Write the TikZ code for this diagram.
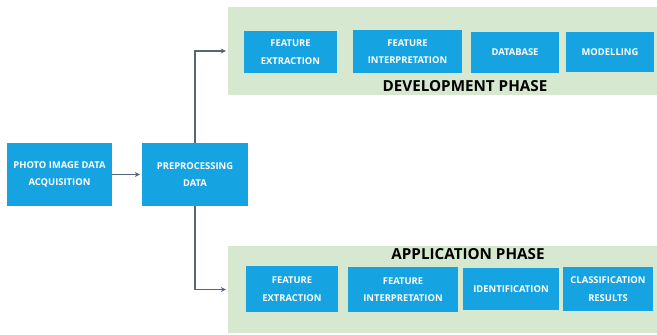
\documentclass[tikz,border=0pt]{standalone}
\usepackage{fontspec}
\setmainfont{Open Sans}
\usetikzlibrary{arrows.meta}
\definecolor{boxblue}{RGB}{22,163,226}
\definecolor{phasegreen}{RGB}{214,232,208}
\definecolor{linkgrey}{RGB}{84,102,120}
\tikzset{
  stagebox/.style={fill=boxblue, draw=none, text=white, align=center,
    font=\fontsize{9.4}{17.5}\selectfont\bfseries, inner sep=0pt},
  phasepanel/.style={fill=phasegreen, draw=none, inner sep=0pt},
  phasetitle/.style={font=\fontsize{15.2}{17}\selectfont\bfseries, text=black, inner sep=0pt},
  conn/.style={draw=linkgrey, line width=1.2pt, -{Stealth[length=5pt,width=5pt]}, shorten >=2pt}
}
\begin{document}
\begin{tikzpicture}[x=1pt, y=-1pt]
\useasboundingbox (0,0) rectangle (657,335);

% phase panels
\node[phasepanel, minimum width=429pt, minimum height=88pt] (dev) at (442.5,51) {};
\node[phasepanel, minimum width=429pt, minimum height=87pt] (app) at (442.5,289.5) {};

% input stages
\node[stagebox, minimum width=105pt, minimum height=63pt] (photo) at (59.5,174.5) {PHOTO IMAGE DATA\\ACQUISITION};
\node[stagebox, minimum width=106pt, minimum height=63pt] (prep) at (195,174.5) {PREPROCESSING\\DATA};

% development phase stages
\node[stagebox, minimum width=93pt, minimum height=42pt] (dfe) at (290.5,52) {FEATURE\\EXTRACTION};
\node[stagebox, minimum width=109pt, minimum height=43pt] (dfi) at (407.5,51.5) {FEATURE\\INTERPRETATION};
\node[stagebox, minimum width=88pt, minimum height=41pt] (db) at (515,52.5) {DATABASE};
\node[stagebox, minimum width=88pt, minimum height=40pt] (mod) at (610,52) {MODELLING};
\node[phasetitle] (devtitle) at (465,86) {DEVELOPMENT PHASE};

% application phase stages
\node[phasetitle] (apptitle) at (468,254) {APPLICATION PHASE};
\node[stagebox, minimum width=92pt, minimum height=46pt] (afe) at (292,289) {FEATURE\\EXTRACTION};
\node[stagebox, minimum width=110pt, minimum height=45pt] (afi) at (403,289.5) {FEATURE\\INTERPRETATION};
\node[stagebox, minimum width=96pt, minimum height=42pt] (ident) at (511,289) {IDENTIFICATION};
\node[stagebox, minimum width=90pt, minimum height=44pt] (cls) at (608,289) {CLASSIFICATION\\RESULTS};

% connectors
\draw[conn] (photo) -- (prep);
\draw[conn] (prep.north) |- (dev.west);
\draw[conn] (prep.south) |- (app.west);
\end{tikzpicture}
\end{document}
